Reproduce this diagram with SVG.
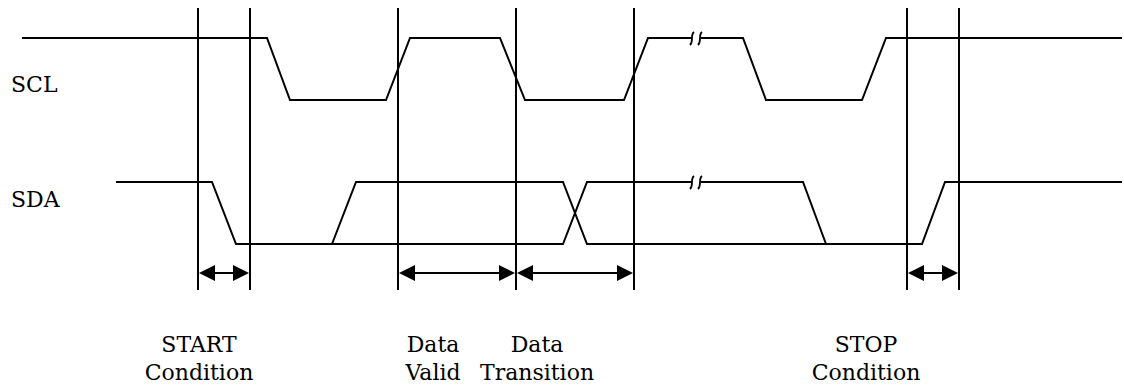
<svg xmlns="http://www.w3.org/2000/svg" width="1124" height="387" viewBox="0 0 1124 387">
<style>
.w{fill:none;stroke:#000;stroke-width:2;stroke-linejoin:miter}
.v{fill:none;stroke:#000;stroke-width:2}
.br{fill:none;stroke:#000;stroke-width:1.8}
.ah{fill:#000;stroke:none}
.c{fill:none;stroke:#000;stroke-width:2}
.t{font-family:'DejaVu Serif','Liberation Serif',serif;font-size:22px;fill:#000}
.m{text-anchor:middle}
</style>
<rect width="1124" height="387" fill="#fff"/>
<g id="labels">
<text class="t" x="11" y="92">SCL</text>
<text class="t" x="11" y="207">SDA</text>
</g>
<g id="scl">
<path class="w" d="M22,38 H267 L290,100 H386 L410,38 H500 L525,100 H624 L648,38 H692"/>
<path class="w" d="M701,38 H743 L766,100 H862 L886,38 H1122"/>
<path class="br" d="M694,32 C690,35 694,41 690,45 M702,32 C698,35 702,41 698,45"/>
</g>
<g id="sda">
<path class="w" d="M116,182 H212 L236,244 H563 L587,182 H692"/>
<path class="w" d="M701,182 H803 L826,244"/>
<path class="w" d="M332,244 L356,182 H563 L587,244 H922 L945,182 H1122"/>
<path class="br" d="M694,176 C690,179 694,185 690,189 M702,176 C698,179 702,185 698,189"/>
</g>
<g id="markers">
<line class="v" x1="198" y1="8" x2="198" y2="290"/>
<line class="v" x1="250" y1="8" x2="250" y2="290"/>
<line class="v" x1="398" y1="8" x2="398" y2="290"/>
<line class="v" x1="516" y1="8" x2="516" y2="290"/>
<line class="v" x1="634" y1="8" x2="634" y2="290"/>
<line class="v" x1="907" y1="8" x2="907" y2="290"/>
<line class="v" x1="959" y1="8" x2="959" y2="290"/>
</g>
<g id="connectors">
<line class="c" x1="210" y1="273" x2="238" y2="273"/>
<path class="ah" d="M199,273 L215,265 L215,281 Z M249,273 L233,265 L233,281 Z"/>
<line class="c" x1="410" y1="273" x2="504" y2="273"/>
<path class="ah" d="M399,273 L415,265 L415,281 Z M515,273 L499,265 L499,281 Z"/>
<line class="c" x1="528" y1="273" x2="622" y2="273"/>
<path class="ah" d="M517,273 L533,265 L533,281 Z M633,273 L617,265 L617,281 Z"/>
<line class="c" x1="919" y1="273" x2="947" y2="273"/>
<path class="ah" d="M908,273 L924,265 L924,281 Z M958,273 L942,265 L942,281 Z"/>
</g>
<g id="start-label">
<text class="t m" x="199" y="352">START</text>
<text class="t m" x="199" y="380">Condition</text>
</g>
<g id="valid-label">
<text class="t m" x="433" y="352">Data</text>
<text class="t m" x="433" y="380">Valid</text>
</g>
<g id="transition-label">
<text class="t m" x="537" y="352">Data</text>
<text class="t m" x="537" y="380">Transition</text>
</g>
<g id="stop-label">
<text class="t m" x="866" y="352">STOP</text>
<text class="t m" x="866" y="380">Condition</text>
</g>
</svg>
